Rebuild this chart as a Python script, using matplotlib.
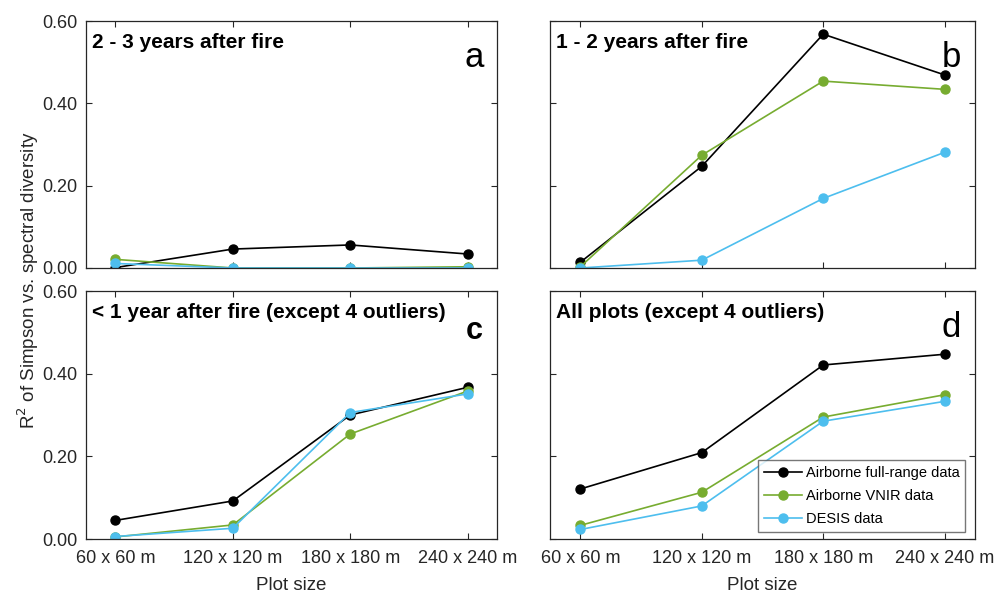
import matplotlib
matplotlib.use("Agg")
from matplotlib import pyplot as plt

plt.rcParams['font.family'] = ['Liberation Sans', 'DejaVu Sans']

PLOT_SIZES = ['60 x 60 m', '120 x 120 m', '180 x 180 m', '240 x 240 m']
SERIES_NAMES = ['Airborne full-range data', 'Airborne VNIR data', 'DESIS data']
COLORS = ['#000000', '#77AC30', '#4DBEEE']

# R^2 values per panel: full-range, VNIR, DESIS
PANEL_A = [[0.001, 0.046, 0.056, 0.034],
           [0.021, 0.000, 0.000, 0.003],
           [0.011, 0.000, 0.000, 0.000]]
PANEL_B = [[0.014, 0.247, 0.568, 0.469],
           [0.003, 0.274, 0.454, 0.434],
           [0.000, 0.019, 0.169, 0.281]]
PANEL_C = [[0.045, 0.092, 0.300, 0.367],
           [0.005, 0.034, 0.254, 0.358],
           [0.006, 0.026, 0.306, 0.351]]
PANEL_D = [[0.121, 0.209, 0.421, 0.447],
           [0.033, 0.113, 0.295, 0.349],
           [0.023, 0.080, 0.285, 0.333]]

TITLES = ['2 - 3 years after fire', '1 - 2 years after fire',
          '< 1 year after fire (except 4 outliers)', 'All plots (except 4 outliers)']
LETTERS = ['a', 'b', 'c', 'd']
YTICKS = [0, 0.2, 0.4, 0.6]

W, H = 994, 599
fig = plt.figure(figsize=(W / 100, H / 100), dpi=100)


def px_axes(left, top, right, bottom):
    return fig.add_axes([left / W, 1 - bottom / H, (right - left) / W, (bottom - top) / H])


boxes = [(86, 21, 497, 268), (550, 21, 975, 268),
         (86, 291, 497, 539), (550, 291, 975, 539)]
panels = [PANEL_A, PANEL_B, PANEL_C, PANEL_D]
xs = range(1, len(PLOT_SIZES) + 1)

for i, (box, data) in enumerate(zip(boxes, panels)):
    ax = px_axes(*box)
    for vals, name, col in zip(data, SERIES_NAMES, COLORS):
        ax.plot(xs, vals, '-o', color=col, lw=1.2, ms=6.5, label=name)
    ax.set_xlim(0.75, 4.25)
    ax.set_ylim(0, 0.6)
    ax.set_xticks(list(xs))
    ax.set_yticks(YTICKS)
    ax.tick_params(direction='in', top=True, right=True, length=4, width=0.8,
                   labelsize=13, colors='#262626')
    ax.tick_params(axis='x', pad=8)
    ax.tick_params(axis='y', pad=6)
    for sp in ax.spines.values():
        sp.set_color('#262626')
        sp.set_linewidth(0.9)
    if i < 2:
        ax.set_xticklabels([])
    else:
        ax.set_xticklabels(PLOT_SIZES)
        ax.set_xlabel('Plot size', fontsize=13.5, color='#262626', labelpad=7)
    if i % 2 == 1:
        ax.set_yticklabels([])
    else:
        ax.set_yticklabels([f'{v:.2f}' for v in YTICKS])
    ax.text(0.015, 0.95, TITLES[i], transform=ax.transAxes, fontsize=15,
            fontweight='bold', va='top', ha='left')
    if i == 2:
        ax.text(0.945, 0.90, LETTERS[i], transform=ax.transAxes, fontsize=22,
                va='top', ha='center', fontweight='bold')
    else:
        ax.text(0.945, 0.92, LETTERS[i], transform=ax.transAxes, fontsize=25,
                va='top', ha='center')
    if i == 3:
        leg = ax.legend(loc='lower right', fontsize=10.5, frameon=True, fancybox=False,
                        borderpad=0.4, handlelength=2.6, handletextpad=0.25,
                        labelspacing=0.6, borderaxespad=0,
                        bbox_to_anchor=(0.977, 0.03))
        leg.get_frame().set_edgecolor('#555555')
        leg.get_frame().set_linewidth(1.0)

fig.text(28 / W, 1 - 280 / H, 'R$^2$ of Simpson vs. spectral diversity', rotation=90,
         ha='center', va='center', fontsize=13.5, color='#262626')

fig.savefig('out.png', dpi=100)
